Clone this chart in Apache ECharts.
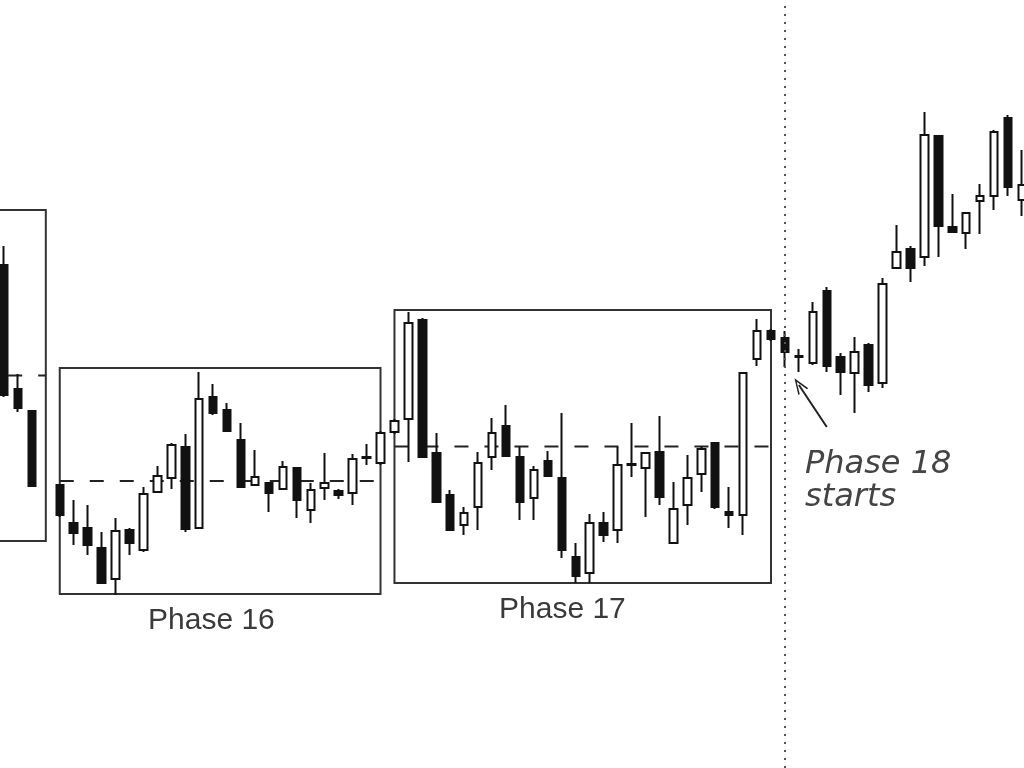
<!DOCTYPE html>
<html>
<head>
<meta charset="utf-8">
<script src="https://cdn.jsdelivr.net/npm/echarts@6/dist/echarts.min.js"></script>
<style>
  html, body { margin: 0; padding: 0; background: #fff; overflow: hidden; width: 1024px; height: 768px; }
  /* slightly wider than the window so the first and last candles are cut like the source */
  #root { position: absolute; left: -3px; top: 0; width: 1032px; height: 768px; }
</style>
</head>
<body>
<div id="root"></div>
<script>
// one slot per session, slot 3 has no candle
var categories = []
for (var i = 0; i < 74; i++) categories.push('S' + (i + 1))

// prices (no axis in the source, arbitrary units)
var opens = [50.3, 37.9, 35.7, null, 28.3, 24.5, 24.0, 22.0, 18.9, 23.8,
  21.8, 27.6, 29.0, 32.1, 24.0, 37.1, 35.8, 32.8, 28.3, 28.5,
  27.9, 30.0, 25.8, 28.0, 27.7, 27.5, 31.0, 30.5, 33.6, 34.9,
  44.8, 31.5, 27.3, 24.3, 26.1, 31.1, 34.2, 31.1, 27.0, 30.7,
  29.0, 21.1, 19.5, 24.5, 23.8, 30.3, 30.0, 31.6, 22.5, 26.3,
  29.4, 32.5, 25.6, 25.3, 40.9, 43.7, 43.0, 41.1, 40.5, 47.7,
  41.1, 39.5, 42.3, 38.5, 50.0, 51.9, 51.1, 63.2, 54.1, 53.5,
  56.7, 57.2, 65.0, 56.8]
var closes = [37.3, 36.0, 28.2, null, 25.3, 23.5, 22.3, 18.5, 23.7, 22.5,
  27.4, 29.2, 32.3, 23.9, 36.9, 35.5, 33.7, 28.1, 29.1, 27.5,
  30.1, 26.8, 27.8, 28.5, 27.3, 30.9, 31.1, 33.5, 34.7, 44.5,
  31.1, 26.6, 23.8, 25.5, 30.5, 33.5, 31.2, 26.6, 29.8, 29.2,
  21.8, 19.2, 24.5, 23.3, 30.3, 30.4, 31.5, 27.1, 25.9, 29.0,
  31.9, 26.1, 25.3, 39.5, 43.7, 42.9, 41.6, 41.2, 45.6, 40.2,
  39.6, 41.6, 38.3, 48.4, 51.6, 50.0, 63.3, 54.2, 53.6, 55.5,
  57.2, 63.6, 58.1, 58.3]
var lows = [37.1, 35.6, 28.1, null, 25.1, 22.3, 21.3, 18.4, 17.3, 21.3,
  21.6, 27.6, 27.9, 23.6, 24.0, 35.3, 33.7, 28.0, 28.3, 25.6,
  27.9, 25.0, 24.5, 26.8, 26.9, 26.3, 30.3, 30.3, 33.4, 30.6,
  31.0, 26.5, 23.7, 23.3, 23.8, 29.8, 31.1, 24.8, 24.8, 29.1,
  21.0, 18.5, 18.5, 22.6, 22.5, 29.1, 25.1, 26.3, 22.5, 24.3,
  27.6, 25.9, 24.0, 23.3, 40.2, 42.7, 40.1, 39.6, 40.3, 39.6,
  37.3, 35.5, 37.6, 38.0, 50.0, 48.6, 50.2, 51.1, 53.5, 51.9,
  53.4, 55.8, 57.2, 55.2]
var highs = [52.2, 39.4, 35.8, null, 28.4, 26.8, 26.3, 23.6, 25.0, 24.0,
  28.1, 30.2, 32.5, 33.4, 39.6, 38.4, 36.5, 34.5, 31.8, 28.6,
  30.7, 30.1, 28.5, 31.5, 27.9, 31.4, 32.4, 33.7, 34.9, 45.6,
  45.0, 33.5, 27.8, 26.1, 31.6, 35.0, 36.3, 32.1, 30.2, 31.7,
  35.5, 22.5, 25.4, 25.6, 32.1, 34.5, 31.6, 35.2, 28.6, 31.3,
  32.2, 32.6, 28.1, 39.6, 44.9, 43.9, 43.7, 41.9, 46.6, 48.1,
  41.5, 43.1, 42.5, 49.0, 54.3, 52.2, 65.6, 63.3, 57.4, 55.6,
  58.4, 63.8, 65.3, 61.8]

// trading range boxes (phase 15 starts off the left edge)
var boxFrom = [-4, 4, 28]
var boxTo = [3, 27, 55]
var boxTop = [55.8, 40.0, 45.8]
var boxBottom = [22.7, 17.4, 18.5]

// where phase 18 begins
var phaseStart = 56

var candleData = categories.map(function (c, i) {
  if (opens[i] == null) return '-'
  return [opens[i], closes[i], lows[i], highs[i]]
})
var boxData = boxFrom.map(function (f, i) {
  return [f, boxTo[i], boxTop[i], boxBottom[i]]
})

var chart = echarts.init(document.getElementById('root'))

// texts are placed in page pixels, the chart div sits 3px to the left
var dx = 3

var option = {
  animation: false,
  backgroundColor: '#fff',
  grid: { left: 0, right: 0, top: 0, bottom: 0 },
  xAxis: {
    type: 'category',
    data: categories,
    boundaryGap: true,
    show: false
  },
  yAxis: {
    type: 'value',
    min: 0,
    max: 76.8,
    show: false
  },
  graphic: [
    { type: 'text', x: 148 + dx, y: 621, style: { text: 'Phase 16', fill: '#3a3a3a', font: '30px "Liberation Sans", Arial, sans-serif', textVerticalAlign: 'middle' } },
    { type: 'text', x: 499 + dx, y: 610, style: { text: 'Phase 17', fill: '#3a3a3a', font: '30px "Liberation Sans", Arial, sans-serif', textVerticalAlign: 'middle' } },
    { type: 'text', x: 805 + dx, y: 465, style: { text: 'Phase 18', fill: '#444', font: 'italic 32px "DejaVu Sans", sans-serif', textVerticalAlign: 'middle' } },
    { type: 'text', x: 805 + dx, y: 498, style: { text: 'starts', fill: '#444', font: 'italic 32px "DejaVu Sans", sans-serif', textVerticalAlign: 'middle' } }
  ],
  series: [
    {
      // boxes with dashed mid line
      type: 'custom',
      z: 1,
      clip: false,
      encode: { x: 1, y: [2, 3] },
      data: boxData,
      renderItem: function (params, api) {
        var band = api.size([1, 0])[0]
        var x0 = api.coord([0, 0])[0]
        var left = x0 + api.value(0) * band
        var right = x0 + api.value(1) * band
        var top = api.coord([0, api.value(2)])[1]
        var bottom = api.coord([0, api.value(3)])[1]
        var mid = (top + bottom) / 2
        return {
          type: 'group',
          children: [
            {
              type: 'rect',
              shape: { x: left, y: top, width: right - left, height: bottom - top },
              style: { fill: 'none', stroke: '#333', lineWidth: 2 }
            },
            {
              type: 'line',
              shape: { x1: left, y1: mid, x2: right, y2: mid },
              style: { stroke: '#222', lineWidth: 2, lineDash: [14, 16] }
            }
          ]
        }
      }
    },
    {
      type: 'candlestick',
      z: 3,
      barWidth: 8,
      data: candleData,
      itemStyle: {
        color: '#fff',
        color0: '#111',
        borderColor: '#111',
        borderColor0: '#111',
        borderColorDoji: '#111',
        borderWidth: 2
      },
      markLine: {
        silent: true,
        symbol: 'none',
        label: { show: false },
        data: [
          {
            xAxis: phaseStart,
            lineStyle: { color: '#555', width: 2, type: [2, 6] }
          },
          [
            {
              coord: [57, 38.3],
              symbol: 'path://M5,0 L10,16 L8.6,16 L5,4 L1.4,16 L0,16 Z',
              symbolSize: [12, 16]
            },
            {
              coord: [59, 34.1],
              symbol: 'none'
            }
          ]
        ],
        lineStyle: { color: '#222', width: 2, type: 'solid' }
      }
    }
  ]
}

if (option && typeof option === 'object') {
  chart.setOption(option)
}

window.addEventListener('resize', chart.resize)
</script>
</body>
</html>
